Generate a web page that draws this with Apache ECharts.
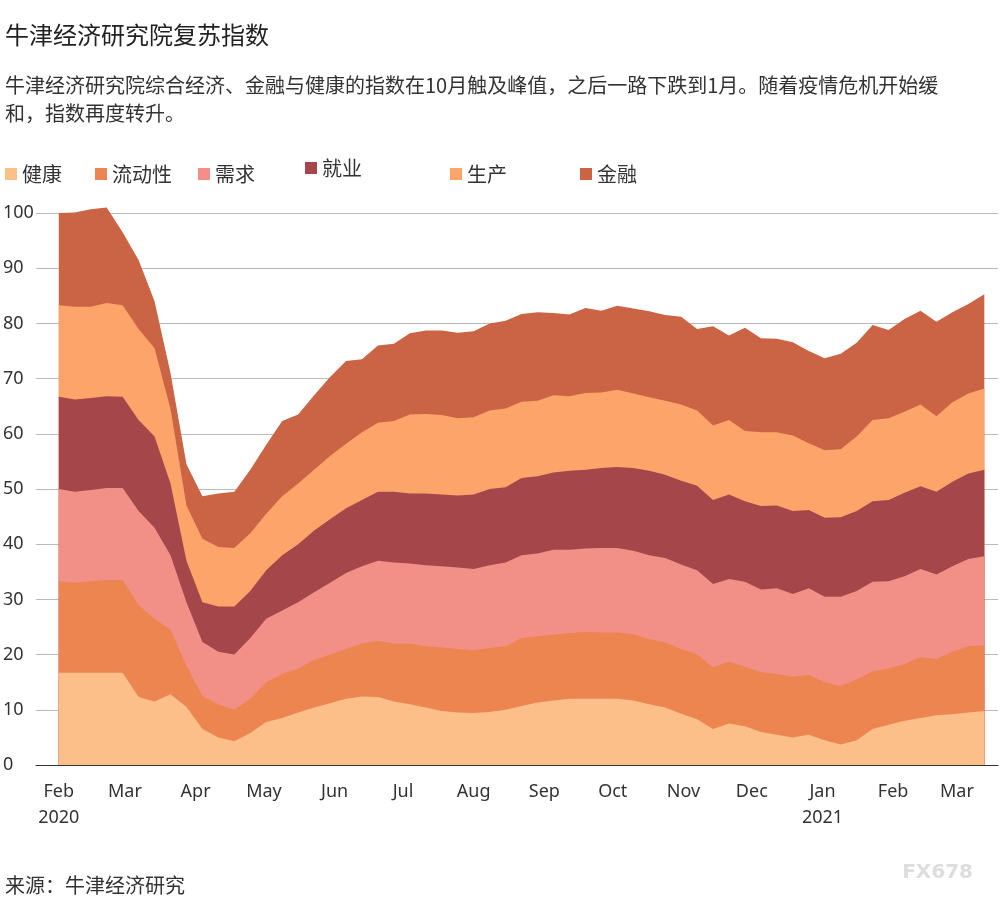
<!DOCTYPE html>
<html><head><meta charset="utf-8">
<script src="https://cdn.jsdelivr.net/npm/echarts@6/dist/echarts.min.js"></script>
<style>body{margin:0;background:#fff}#c{width:1000px;height:899px}</style></head>
<body><div id="c"></div>
<script>
const names=['健康','流动性','需求','就业','生产','金融'];
const colors=['#fcbf8a','#ec8550','#f28f87','#a5464a','#fda46b','#cb6445'];
// cumulative top of each layer, read weekly from 2020-02-01
const healthTop=[16.7,16.7,16.7,16.7,16.7,12.3,11.5,12.8,10.5,6.5,5,4.3,5.8,7.8,8.5,9.5,10.4,11.2,12,12.4,12.3,11.5,11,10.4,9.8,9.5,9.4,9.6,10,10.7,11.3,11.7,12,12,12,12,11.7,11,10.4,9.3,8.3,6.5,7.5,7,6,5.5,5,5.5,4.5,3.7,4.5,6.5,7.3,8,8.5,9,9.2,9.5,9.8];
const liquidityTop=[33.3,33,33.3,33.5,33.5,29,26.5,24.5,18,12.5,11,10,12,15,16.5,17.5,19,20,21,22,22.5,22,22,21.5,21.3,21,20.8,21.2,21.5,23,23.3,23.6,23.9,24.1,24,24,23.7,22.8,22.2,21,20,17.7,18.7,17.8,16.8,16.5,16,16.3,15,14.3,15.5,17,17.5,18.3,19.5,19.2,20.5,21.5,21.7];
const demandTop=[50,49.5,49.8,50.2,50.2,46,43,38,29.5,22.3,20.5,20,23,26.5,28,29.5,31.3,33,34.8,36,37,36.7,36.5,36.2,36,35.8,35.5,36.2,36.7,38,38.3,39,39,39.2,39.3,39.3,38.8,38,37.5,36.3,35.3,32.8,33.7,33.2,31.8,32,31,32,30.5,30.5,31.5,33.2,33.3,34.2,35.5,34.5,36,37.3,37.8];
const employmentTop=[66.7,66.2,66.5,66.8,66.7,62.5,59.5,51,37,29.5,28.7,28.7,31.5,35.3,38,40,42.5,44.5,46.5,48,49.5,49.5,49.2,49.2,49,48.8,49,50,50.3,52,52.3,53,53.3,53.5,53.8,54,53.8,53.3,52.6,51.5,50.6,48,49,47.8,46.9,47,46,46.2,44.8,44.9,46,47.8,48,49.3,50.5,49.5,51.3,52.8,53.5];
const productionTop=[83.3,83,83,83.7,83.3,79,75.5,64.5,47,41,39.5,39.3,42,45.5,48.7,51,53.5,56,58.2,60.3,62,62.3,63.5,63.6,63.4,62.8,63,64.2,64.6,65.8,66,67,66.8,67.4,67.5,68,67.3,66.6,66,65.3,64.2,61.5,62.5,60.5,60.3,60.3,59.7,58.3,57,57.2,59.5,62.5,62.8,64,65.3,63.2,65.7,67.3,68.2];
const financeTop=[100,100.1,100.7,101,96.5,91.5,84,71,54.5,48.7,49.2,49.5,53.5,58,62.3,63.5,67,70.3,73.2,73.5,76,76.3,78.2,78.7,78.7,78.3,78.6,80,80.5,81.7,82,81.9,81.6,82.8,82.3,83.2,82.7,82.2,81.5,81.2,79,79.5,77.8,79.2,77.3,77.2,76.6,75,73.7,74.5,76.5,79.7,78.8,80.8,82.3,80.3,82,83.5,85.3];
const yTicks=[0,10,20,30,40,50,60,70,80,90,100];
const months=['Jan','Feb','Mar','Apr','May','Jun','Jul','Aug','Sep','Oct','Nov','Dec'];
const start=Date.UTC(2020,1,1), DAY=86400000;
const dates=healthTop.map((_,i)=>start+i*7*DAY);
const tops=[healthTop,liquidityTop,demandTop,employmentTop,productionTop,financeTop];
const series=[];
for(let k=5;k>=0;k--){
  series.push({name:names[k],type:'line',symbol:'none',clip:false,lineStyle:{width:0},
    itemStyle:{color:colors[k]},areaStyle:{color:colors[k],opacity:1},
    data:tops[k].map((v,i)=>[dates[i],v]),z:10-k});
}
const legendLeft=[0,90,193,300,445,575];
const legends=names.map((n,i)=>({data:[n],left:legendLeft[i],top:i==3?153:159,icon:'rect',itemWidth:12,itemHeight:12,itemGap:2,
  textStyle:{fontSize:20,color:'#333',fontFamily:'Noto Sans CJK SC'},selectedMode:false}));
const chart=echarts.init(document.getElementById('c'));
chart.setOption({
  animation:false,
  title:[{text:'牛津经济研究院复苏指数',left:0,top:18,textStyle:{fontSize:24,fontWeight:'normal',color:'#222',fontFamily:'Noto Sans CJK SC'}},
    {text:'牛津经济研究院综合经济、金融与健康的指数在10月触及峰值，之后一路下跌到1月。随着疫情危机开始缓\n和，指数再度转升。',left:0,top:66,textStyle:{fontSize:20,fontWeight:'normal',color:'#333',lineHeight:28,fontFamily:'Noto Sans CJK SC'}},
    {text:'来源：牛津经济研究',left:0,top:870,textStyle:{fontSize:20,fontWeight:'normal',color:'#333',fontFamily:'Noto Sans CJK SC'}},
    {text:'FX678',right:22,top:858,textStyle:{fontSize:20,fontWeight:'bold',color:'#ddd',fontFamily:'DejaVu Sans'}}],
  legend:legends,
  grid:{left:33,right:2,top:213,bottom:134},
  xAxis:{type:'time',min:Date.UTC(2020,0,22),max:Date.UTC(2021,2,19),
    splitNumber:14,
    axisLine:{show:true,lineStyle:{color:'#333'}},axisTick:{show:false},splitLine:{show:false},
    axisLabel:{fontSize:18,color:'#333',lineHeight:26,margin:14,fontFamily:'Noto Sans',
      formatter:v=>{const d=new Date(v);const m=d.getUTCMonth();if(d.getUTCDate()!=1)return '';return months[m]+((m==0||(m==1&&d.getUTCFullYear()==2020))?'\n'+d.getUTCFullYear():'');}}},
  yAxis:{type:'value',min:0,max:100,interval:10,
    axisLine:{show:false},axisTick:{show:false},
    splitLine:{lineStyle:{color:'#bbb'}},
    axisLabel:{fontSize:18,color:'#333',align:'left',margin:33,fontFamily:'Noto Sans',formatter:v=>yTicks.includes(v)?String(v):''}},
  series
});
</script></body></html>
